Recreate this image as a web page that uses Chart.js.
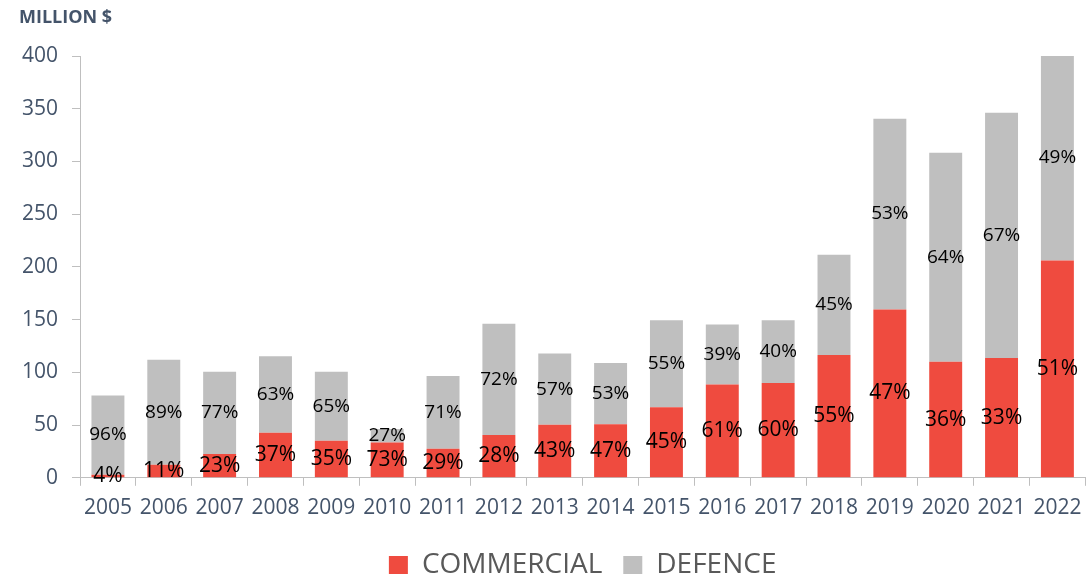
<!DOCTYPE html>
<html>
<head>
<meta charset="utf-8">
<script src="https://cdn.jsdelivr.net/npm/chart.js@4/dist/chart.umd.min.js"></script>
<style>
  html, body { margin: 0; padding: 0; background: #fff; }
  #wrap { width: 1091px; height: 578px; }
</style>
</head>
<body>
<div id="wrap"><canvas id="myChart" width="1091" height="578"></canvas></div>
<script>
var years = ['2005', '2006', '2007', '2008', '2009', '2010', '2011', '2012', '2013',
             '2014', '2015', '2016', '2017', '2018', '2019', '2020', '2021', '2022'];

// million $
var commercial = [3, 12.3, 22.5, 42.7, 35.1, 33.5, 27.5, 40.5, 50.4,
                  50.8, 67, 88.4, 90, 116.5, 159.7, 110, 113.5, 206];
var defence = [75, 99.7, 78.1, 72.5, 65.5, 12.7, 69.1, 105.7, 67.4,
               58.1, 82.4, 56.9, 59.4, 95, 180.9, 198.3, 232.8, 196];

// share labels as printed on the bars
var commercialPct = ['4%', '11%', '23%', '37%', '35%', '73%', '29%', '28%', '43%',
                     '47%', '45%', '61%', '60%', '55%', '47%', '36%', '33%', '51%'];
var defencePct = ['96%', '89%', '77%', '63%', '65%', '27%', '71%', '72%', '57%',
                  '53%', '55%', '39%', '40%', '45%', '53%', '64%', '67%', '49%'];

var yTicks = [0, 50, 100, 150, 200, 250, 300, 350, 400];

var slate = '#44546A';
var axisGrey = '#BFBFBF';

// draws the % text in the middle of every segment
var pctLabels = {
    id: 'pctLabels',
    afterDatasetsDraw: function(chart) {
        var ctx = chart.ctx;
        var lists = [commercialPct, defencePct];
        var sizes = [21, 19];
        ctx.save();
        ctx.fillStyle = '#000';
        ctx.textAlign = 'center';
        ctx.textBaseline = 'middle';
        for (var d = 0; d < chart.data.datasets.length; d++) {
            var meta = chart.getDatasetMeta(d);
            ctx.font = sizes[d] + 'px "Open Sans"';
            for (var i = 0; i < meta.data.length; i++) {
                var bar = meta.data[i];
                var cy = (bar.y + bar.base) / 2;
                ctx.fillText(lists[d][i], bar.x, cy);
            }
        }
        ctx.restore();
    }
};

var ctx = document.getElementById('myChart').getContext('2d');
var myChart = new Chart(ctx, {
    type: 'bar',
    data: {
        labels: years,
        datasets: [{
            label: 'COMMERCIAL',
            data: commercial,
            backgroundColor: '#EF4B3F',
            barPercentage: 0.59,
            categoryPercentage: 1
        }, {
            label: 'DEFENCE',
            data: defence,
            backgroundColor: '#BFBFBF',
            barPercentage: 0.59,
            categoryPercentage: 1
        }]
    },
    options: {
        responsive: false,
        animation: false,
        layout: {
            padding: { left: 19, right: 3, top: 0, bottom: -11 }
        },
        scales: {
            x: {
                stacked: true,
                grid: {
                    display: true,
                    drawOnChartArea: false,
                    drawTicks: true,
                    tickLength: 8,
                    color: axisGrey,
                    offset: true
                },
                border: { display: true, color: axisGrey },
                ticks: {
                    color: slate,
                    padding: 9.5,
                    font: { family: 'Open Sans', size: 21 },
                    maxRotation: 0,
                    autoSkip: false
                }
            },
            y: {
                stacked: true,
                min: 0,
                max: 400,
                afterBuildTicks: function(axis) {
                    axis.ticks = yTicks.map(function(v) { return { value: v }; });
                },
                afterFit: function(axis) {
                    axis.width = 61;
                },
                grid: {
                    display: true,
                    drawOnChartArea: false,
                    drawTicks: true,
                    tickLength: 8,
                    color: axisGrey
                },
                border: { display: true, color: axisGrey },
                ticks: {
                    color: slate,
                    padding: 14,
                    font: { family: 'Open Sans', size: 21 }
                }
            }
        },
        plugins: {
            title: {
                display: true,
                text: 'MILLION $',
                align: 'start',
                color: slate,
                font: { family: 'Open Sans', size: 18, weight: 'bold' },
                padding: { top: 7, bottom: 27.4 }
            },
            legend: {
                position: 'bottom',
                fullSize: false,
                labels: {
                    color: '#595959',
                    boxWidth: 19,
                    boxHeight: 18,
                    padding: 21,
                    font: { family: 'Open Sans', size: 28 }
                }
            },
            tooltip: { enabled: false }
        }
    },
    plugins: [pctLabels]
});
</script>
</body>
</html>
